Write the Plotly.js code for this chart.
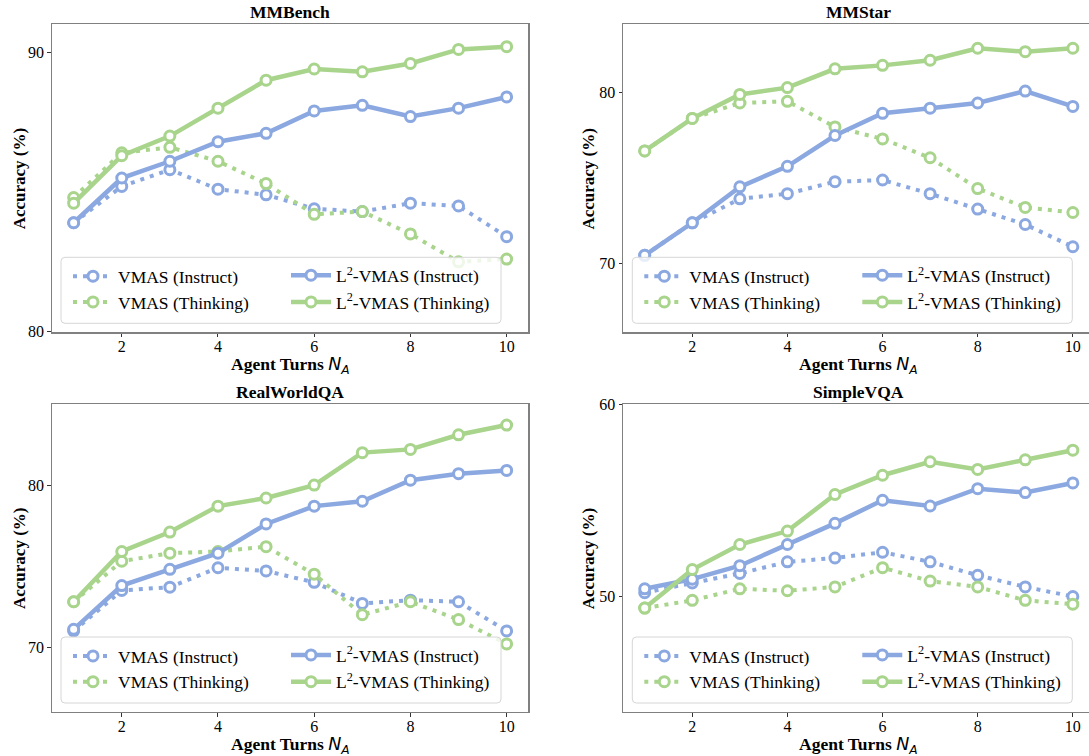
<!DOCTYPE html>
<html>
<head>
<meta charset="utf-8">
<script src="https://cdn.plot.ly/plotly-3.0.1.min.js"></script>
<style>html,body{margin:0;padding:0;background:#fff}#chart{width:1089px;height:756px}</style>
</head>
<body>
<div id="chart"></div>
<script>
// ---------------- DATA ----------------
const turns = [1, 2, 3, 4, 5, 6, 7, 8, 9, 10];
const panelTitles = ["MMBench", "MMStar", "RealWorldQA", "SimpleVQA"];
const seriesNames = ["VMAS (Instruct)", "VMAS (Thinking)", "L<sup>2</sup>-VMAS (Instruct)", "L<sup>2</sup>-VMAS (Thinking)"];
const xTickVals = [2, 4, 6, 8, 10];
const xAxisTitle = "Agent Turns";
const yAxisTitle = "Accuracy (%)";

const mmbenchVmasInstruct = [83.9, 85.2, 85.8, 85.1, 84.9, 84.4, 84.3, 84.6, 84.5, 83.4];
const mmbenchVmasThinking = [84.8, 86.4, 86.6, 86.1, 85.3, 84.2, 84.3, 83.5, 82.5, 82.6];
const mmbenchL2Instruct   = [83.9, 85.5, 86.1, 86.8, 87.1, 87.9, 88.1, 87.7, 88.0, 88.4];
const mmbenchL2Thinking   = [84.6, 86.3, 87.0, 88.0, 89.0, 89.4, 89.3, 89.6, 90.1, 90.2];

const mmstarVmasInstruct = [70.5, 72.4, 73.8, 74.1, 74.8, 74.9, 74.1, 73.2, 72.3, 71.0];
const mmstarVmasThinking = [76.6, 78.5, 79.4, 79.5, 78.0, 77.3, 76.2, 74.4, 73.3, 73.0];
const mmstarL2Instruct   = [70.5, 72.4, 74.5, 75.7, 77.5, 78.8, 79.1, 79.4, 80.1, 79.2];
const mmstarL2Thinking   = [76.6, 78.5, 79.9, 80.3, 81.4, 81.6, 81.9, 82.6, 82.4, 82.6];

const rwqaVmasInstruct = [71.0, 73.5, 73.7, 74.9, 74.7, 74.0, 72.7, 72.9, 72.8, 71.0];
const rwqaVmasThinking = [72.8, 75.3, 75.8, 75.9, 76.2, 74.5, 72.0, 72.8, 71.7, 70.2];
const rwqaL2Instruct   = [71.1, 73.8, 74.8, 75.8, 77.6, 78.7, 79.0, 80.3, 80.7, 80.9];
const rwqaL2Thinking   = [72.8, 75.9, 77.1, 78.7, 79.2, 80.0, 82.0, 82.2, 83.1, 83.7];

const svqaVmasInstruct = [50.2, 50.7, 51.2, 51.8, 52.0, 52.3, 51.8, 51.1, 50.5, 50.0];
const svqaVmasThinking = [49.4, 49.8, 50.4, 50.3, 50.5, 51.5, 50.8, 50.5, 49.8, 49.6];
const svqaL2Instruct   = [50.4, 50.9, 51.6, 52.7, 53.8, 55.0, 54.7, 55.6, 55.4, 55.9];
const svqaL2Thinking   = [49.4, 51.4, 52.7, 53.4, 55.3, 56.3, 57.0, 56.6, 57.1, 57.6];

const panelSeries = [
  [mmbenchVmasInstruct, mmbenchVmasThinking, mmbenchL2Instruct, mmbenchL2Thinking],
  [mmstarVmasInstruct, mmstarVmasThinking, mmstarL2Instruct, mmstarL2Thinking],
  [rwqaVmasInstruct, rwqaVmasThinking, rwqaL2Instruct, rwqaL2Thinking],
  [svqaVmasInstruct, svqaVmasThinking, svqaL2Instruct, svqaL2Thinking]
];
const yTickVals = [[80, 90], [70, 80], [70, 80], [50, 60]];
const yRanges = [[79.98, 91], [66, 84], [66, 85], [44, 60]];

// ---------------- STYLE / LAYOUT ----------------
const W = 1089, H = 756;
const BLUE = "#8BA8E0", GREEN = "#A8D48C";
const FONT = "Liberation Serif, Times New Roman, serif";
const colors = [BLUE, GREEN, BLUE, GREEN];
const dashes = ["4px,6px", "4px,6px", "solid", "solid"];
const lineWidths = [4, 4, 4.5, 4.5];

// plot-area pixel boxes [left, top, right, bottom]
const boxes = [[52, 24.3, 528.3, 332.3], [623.3, 24.3, 1089, 332.3], [52, 404, 528.3, 712], [623.3, 404, 1089, 712]];
const xRanges = [[0.55, 10.45], [0.55, 10.34], [0.55, 10.45], [0.55, 10.34]];

const px = p => p / W;
const py = p => 1 - p / H;

const traces = [];
const layout = {
  width: W, height: H,
  margin: {l: 0, r: 0, t: 0, b: 0},
  paper_bgcolor: "#fff", plot_bgcolor: "#fff",
  font: {family: FONT, size: 16, color: "#000"},
  showlegend: true,
  shapes: [], annotations: []
};

const xTitleHtml = xAxisTitle + ' <span style="font-family:DejaVu Sans;font-style:italic;font-weight:normal">N<sub>A</sub></span>';

for (let p = 0; p < 4; p++) {
  const [L, T, R, B] = boxes[p];
  const isRight = p % 2 === 1;
  const sfx = p === 0 ? "" : String(p + 1);
  const xa = "x" + sfx, ya = "y" + sfx;
  const legCol1 = "legend" + (p === 0 ? "" : String(2 * p + 1));
  const legCol2 = "legend" + String(2 * p + 2);

  for (let s = 0; s < 4; s++) {
    const tr = {
      type: "scatter", mode: "lines+markers",
      x: turns, y: panelSeries[p][s],
      xaxis: xa, yaxis: ya,
      name: seriesNames[s],
      legend: s < 2 ? legCol1 : legCol2,
      line: {color: colors[s], width: lineWidths[s], dash: dashes[s]},
      marker: {symbol: "circle", size: 10, color: "#fff", line: {color: colors[s], width: 3}},
      hoverinfo: "x+y"
    };
    if (s >= 2) tr.legendgroup = "p" + p + "s" + s;
    traces.push(tr);
  }

  layout["xaxis" + sfx] = {
    domain: [px(L), px(R)], anchor: ya, range: xRanges[p],
    tickmode: "array", tickvals: xTickVals, ticks: "outside", ticklen: 3.5, tickwidth: 1, tickcolor: "#333",
    ticklabelstandoff: -4,
    showline: true, mirror: true, linecolor: "#808080", linewidth: 1.3,
    showgrid: false, zeroline: false,
    tickfont: {family: FONT, size: 16, color: "#000"}
  };
  layout["yaxis" + sfx] = {
    domain: [py(B), py(T)], anchor: xa, range: yRanges[p],
    tickmode: "array", tickvals: yTickVals[p], ticks: "outside", ticklen: 3.5, tickwidth: 1, tickcolor: "#333",
    showline: true, mirror: !isRight, linecolor: "#808080", linewidth: 1.3,
    showgrid: false, zeroline: false,
    tickfont: {family: FONT, size: 16, color: "#000"}
  };

  // subplot title
  const fullR = isRight ? 1094 : R;
  const cx = (L + fullR) / 2;
  layout.annotations.push({
    xref: "paper", yref: "paper", x: px(cx), y: py(T - 0.5), xanchor: "center", yanchor: "bottom",
    showarrow: false, text: panelTitles[p],
    font: {family: FONT, size: 17.5, weight: "bold", color: "#000"}
  });
  // x axis title
  layout.annotations.push({
    xref: "paper", yref: "paper", x: px(cx), y: py(B + 33.5), xanchor: "center", yanchor: "middle",
    showarrow: false, text: xTitleHtml,
    font: {family: FONT, size: 17.5, weight: "bold", color: "#000"}
  });
  // y axis title
  layout.annotations.push({
    xref: "paper", yref: "paper", x: px(L - (isRight ? 35 : 33)), y: py((T + B) / 2),
    xanchor: "center", yanchor: "middle", textangle: -90,
    showarrow: false, text: yAxisTitle,
    font: {family: FONT, size: 17, weight: "bold", color: "#000"}
  });

  // legend frame (rounded, semi-transparent white)
  const bl = L + 9, br = L + 449, bt = B - 75, bb = B - 9, r = 4;
  const path = [
    "M", px(bl + r), py(bt), "L", px(br - r), py(bt), "Q", px(br), py(bt), px(br), py(bt + r),
    "L", px(br), py(bb - r), "Q", px(br), py(bb), px(br - r), py(bb),
    "L", px(bl + r), py(bb), "Q", px(bl), py(bb), px(bl), py(bb - r),
    "L", px(bl), py(bt + r), "Q", px(bl), py(bt), px(bl + r), py(bt), "Z"
  ].join(" ");
  layout.shapes.push({
    type: "path", xref: "paper", yref: "paper", path: path, layer: "above",
    fillcolor: "rgba(255,255,255,0.8)", line: {color: "#d6d6d6", width: 1}
  });

  const legBase = {
    bgcolor: "rgba(0,0,0,0)", borderwidth: 0, orientation: "v",
    xref: "paper", yref: "paper", xanchor: "left", yanchor: "top",
    itemwidth: 40, font: {family: FONT, size: 17.5, color: "#000"},
    itemclick: false, itemdoubleclick: false
  };
  layout[legCol1] = Object.assign({}, legBase, {x: px(bl + 7), y: py(bt + 1), traceorder: "normal"});
  layout[legCol2] = Object.assign({}, legBase, {x: px(bl + 225), y: py(bt + 0), tracegroupgap: 1});
}

Plotly.newPlot("chart", traces, layout, {displayModeBar: false, staticPlot: true});
</script>
</body>
</html>
